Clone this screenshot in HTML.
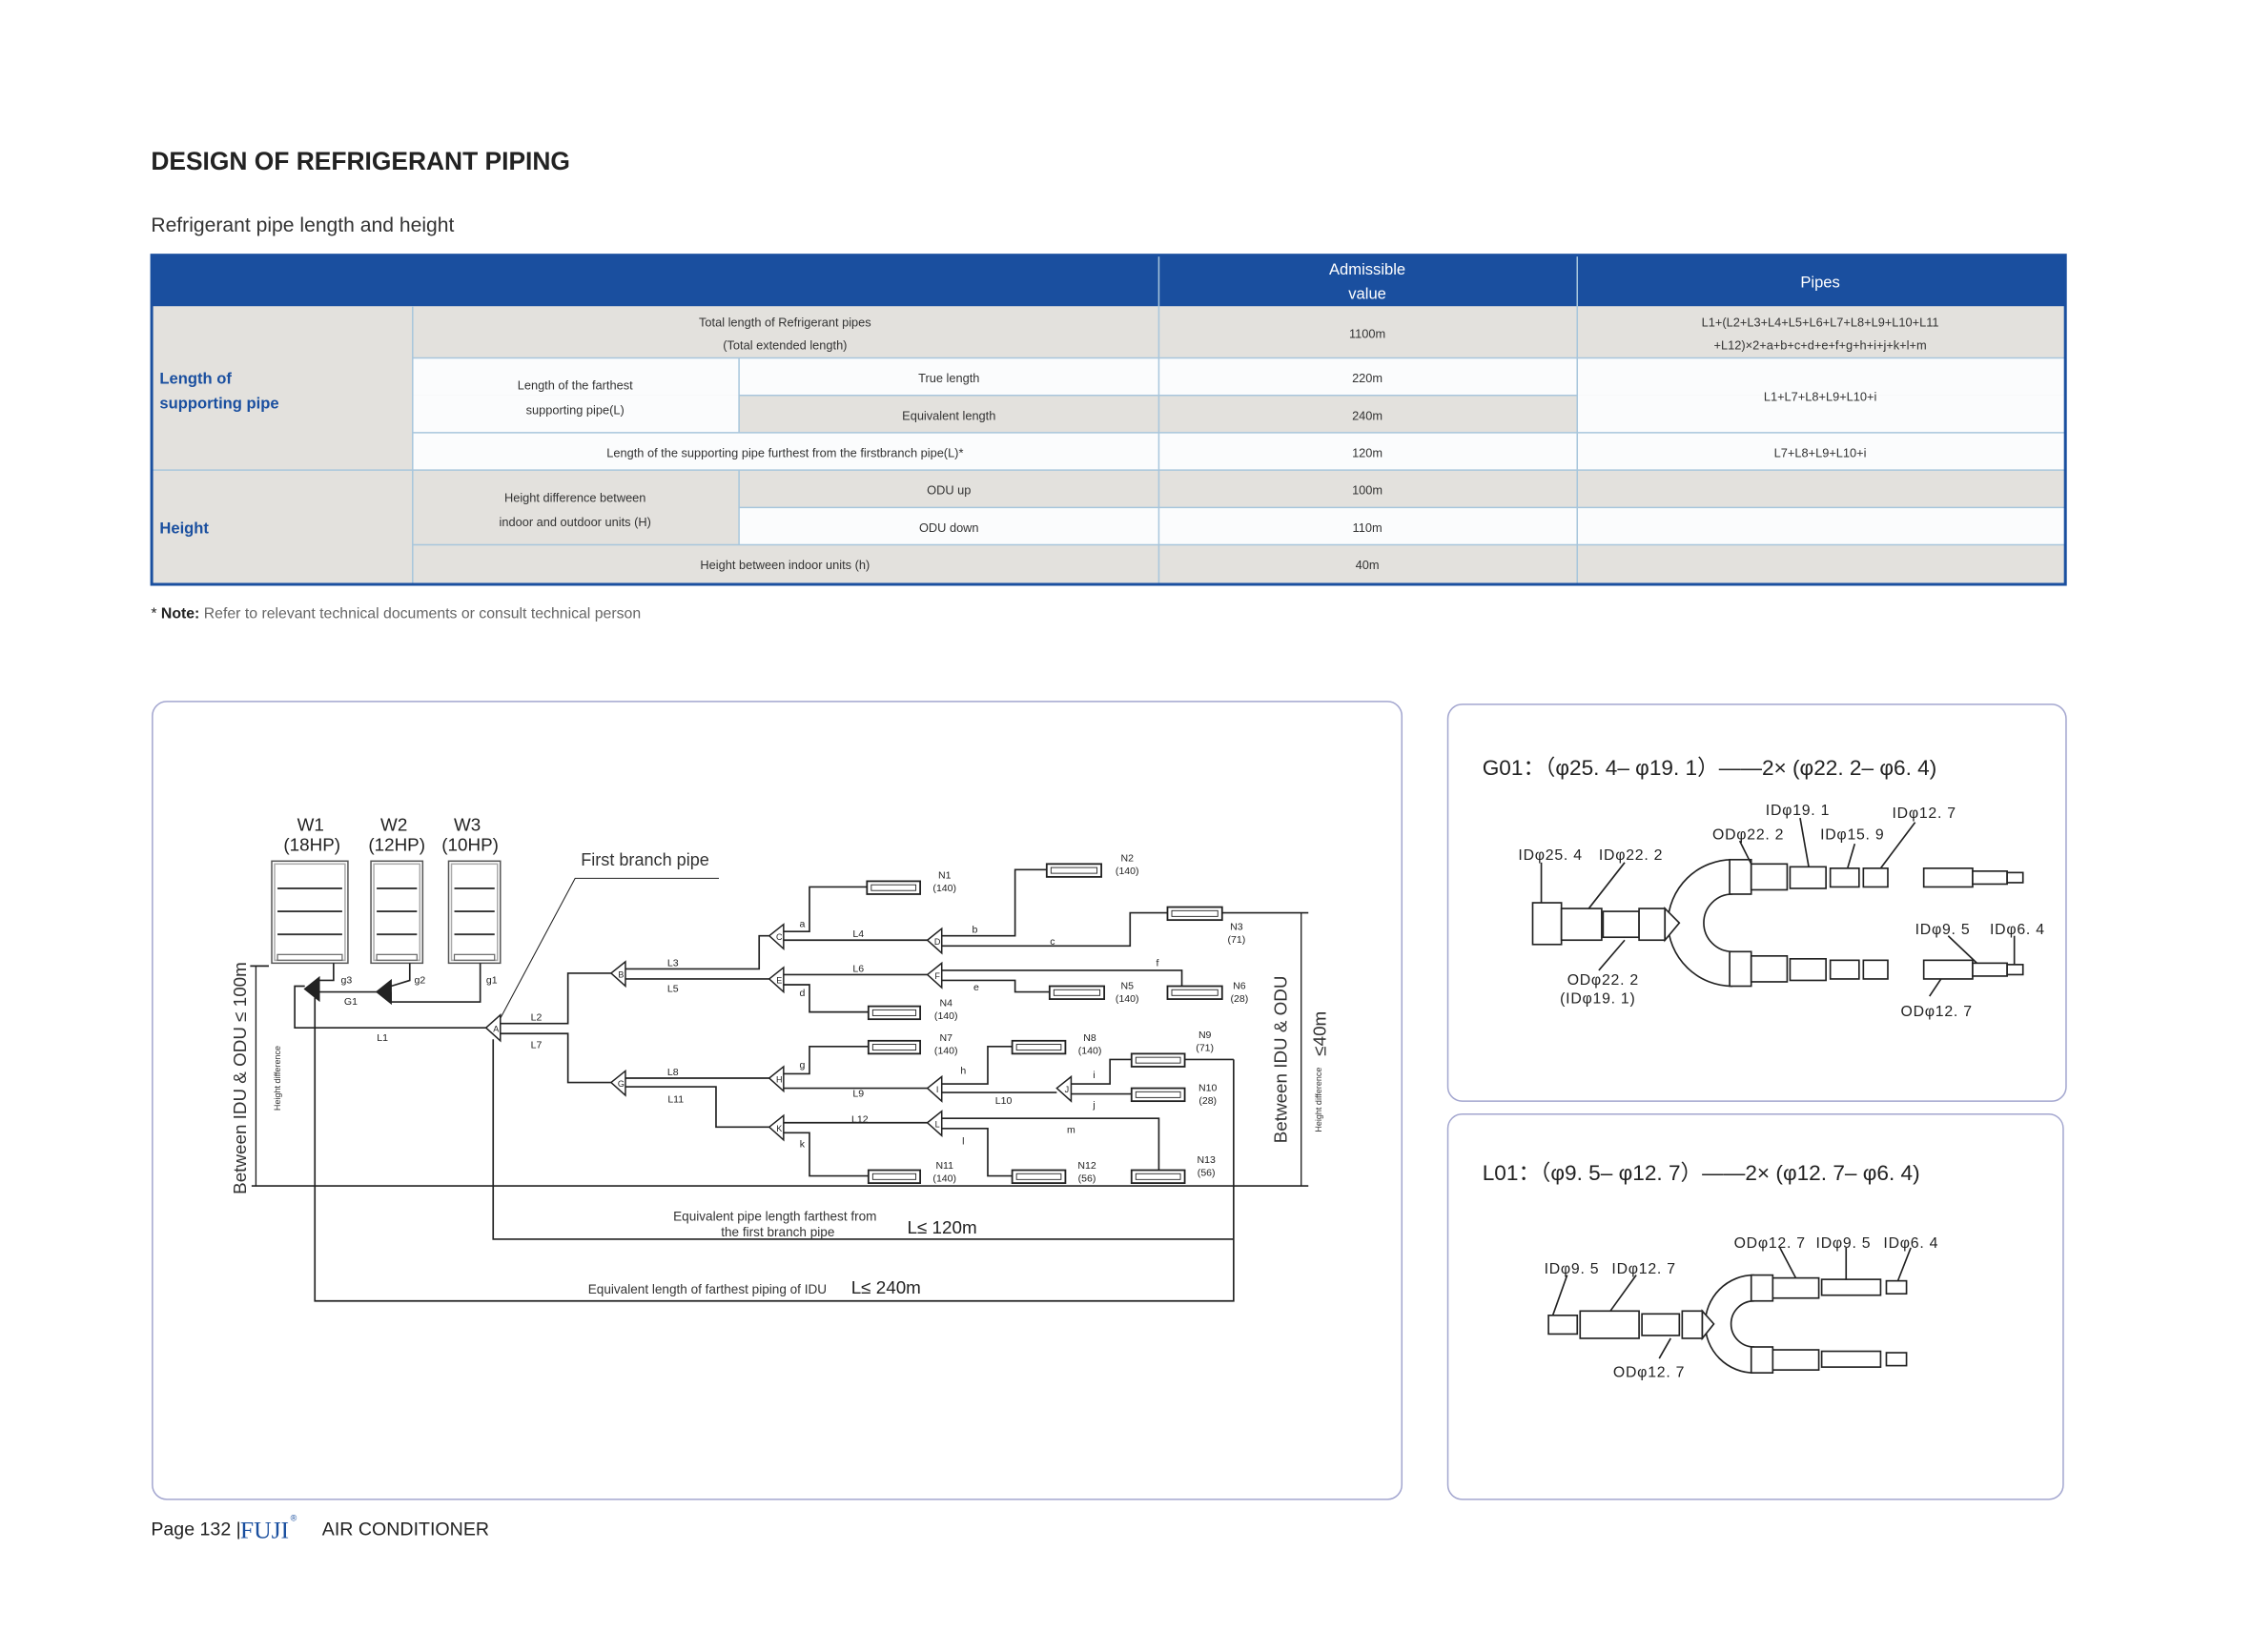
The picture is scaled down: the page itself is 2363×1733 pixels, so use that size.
<!DOCTYPE html>
<html><head><meta charset="utf-8"><style>
html,body{margin:0;padding:0;background:#fff;}
svg{display:block;}
text{font-family:"Liberation Sans",sans-serif;}
.t{font-size:8.5px;fill:#333;text-anchor:middle;}
.s{font-size:7px;fill:#222;}
.p{fill:none;stroke:#222;stroke-width:1.1;}
.f{font-size:10.5px;fill:#222;letter-spacing:0.5px;}
.fit{fill:#fff;stroke:#222;stroke-width:1.1;}
</style></head><body>
<svg width="2363" height="1733" viewBox="0 0 1567 1149.2" preserveAspectRatio="none" xmlns="http://www.w3.org/2000/svg">
<rect width="1567" height="1150" fill="#fff"/>
<text x="105" y="118" style="font-size:17.5px;font-weight:bold;fill:#222">DESIGN OF REFRIGERANT PIPING</text>
<text x="105" y="161" style="font-size:14px;fill:#333">Refrigerant pipe length and height</text>

<!-- table -->
<g>
<rect x="105" y="177" width="1332" height="230" fill="#e3e1dd"/>
<rect x="105" y="177" width="1332" height="36" fill="#1a4f9f"/>
<rect x="287" y="249" width="1150" height="26" fill="#fbfcfd"/>
<rect x="287" y="275" width="227" height="26" fill="#fbfcfd"/>
<rect x="1097" y="275" width="340" height="26" fill="#fbfcfd"/>
<rect x="287" y="301" width="1150" height="26" fill="#fbfcfd"/>
<rect x="514" y="353" width="923" height="26" fill="#fbfcfd"/>
<g stroke="#a8c6dc" stroke-width="1" fill="none">
<line x1="287" y1="249" x2="1437" y2="249"/>
<line x1="514" y1="275" x2="1097" y2="275"/>
<line x1="287" y1="301" x2="1437" y2="301"/>
<line x1="105" y1="327" x2="1437" y2="327"/>
<line x1="514" y1="353" x2="1437" y2="353"/>
<line x1="287" y1="379" x2="1437" y2="379"/>
<line x1="287" y1="213" x2="287" y2="406"/>
<line x1="514" y1="249" x2="514" y2="301"/>
<line x1="514" y1="327" x2="514" y2="379"/>
<line x1="806" y1="177" x2="806" y2="406"/>
<line x1="1097" y1="177" x2="1097" y2="406"/>
</g>
<rect x="105.5" y="177.5" width="1331" height="229" fill="none" stroke="#1a4f9f" stroke-width="2"/>
<text x="951" y="191" style="font-size:11px;fill:#fff;text-anchor:middle">Admissible</text>
<text x="951" y="208" style="font-size:11px;fill:#fff;text-anchor:middle">value</text>
<text x="1266" y="200" style="font-size:11px;fill:#fff;text-anchor:middle">Pipes</text>
<text x="111" y="267" style="font-size:11px;fill:#1a4f9f;font-weight:bold">Length of</text>
<text x="111" y="284" style="font-size:11px;fill:#1a4f9f;font-weight:bold">supporting pipe</text>
<text x="111" y="371" style="font-size:11px;fill:#1a4f9f;font-weight:bold">Height</text>
<text class="t" x="546" y="227">Total length of Refrigerant pipes</text>
<text class="t" x="546" y="243">(Total extended length)</text>
<text class="t" x="951" y="235">1100m</text>
<text class="t" x="1266" y="227">L1+(L2+L3+L4+L5+L6+L7+L8+L9+L10+L11</text>
<text class="t" x="1266" y="243">+L12)×2+a+b+c+d+e+f+g+h+i+j+k+l+m</text>
<text class="t" x="400" y="271">Length of the farthest</text>
<text class="t" x="400" y="288">supporting pipe(L)</text>
<text class="t" x="660" y="266">True length</text>
<text class="t" x="660" y="292">Equivalent length</text>
<text class="t" x="951" y="266">220m</text>
<text class="t" x="951" y="292">240m</text>
<text class="t" x="1266" y="279">L1+L7+L8+L9+L10+i</text>
<text class="t" x="546" y="318">Length of the supporting pipe furthest from the firstbranch pipe(L)*</text>
<text class="t" x="951" y="318">120m</text>
<text class="t" x="1266" y="318">L7+L8+L9+L10+i</text>
<text class="t" x="400" y="349">Height difference between</text>
<text class="t" x="400" y="366">indoor and outdoor units (H)</text>
<text class="t" x="660" y="344">ODU up</text>
<text class="t" x="660" y="370">ODU down</text>
<text class="t" x="951" y="344">100m</text>
<text class="t" x="951" y="370">110m</text>
<text class="t" x="546" y="396">Height between indoor units (h)</text>
<text class="t" x="951" y="396">40m</text>
</g>
<text x="105" y="430" style="font-size:10.5px;fill:#666"><tspan fill="#222">* </tspan><tspan fill="#222" font-weight="bold">Note:</tspan> Refer to relevant technical documents or consult technical person</text>

<!-- panels -->
<g fill="none" stroke="#a3a6cf" stroke-width="1">
<rect x="106" y="488" width="869" height="555" rx="10"/>
<rect x="1007" y="490" width="430" height="276" rx="10"/>
<rect x="1007" y="775" width="428" height="268" rx="10"/>
</g>

<!-- ODU units -->
<g font-size="12.5" fill="#222" text-anchor="middle">
<text x="216" y="578">W1</text><text x="217" y="592">(18HP)</text>
<text x="274" y="578">W2</text><text x="276" y="592">(12HP)</text>
<text x="325" y="578">W3</text><text x="327" y="592">(10HP)</text>
</g>
<g stroke="#555" fill="#fff" stroke-width="1">
<rect x="189" y="599" width="53" height="71"/><rect x="191" y="601" width="49" height="67" fill="none" stroke="#aaa"/>
<rect x="258" y="599" width="36" height="71"/><rect x="260" y="601" width="32" height="67" fill="none" stroke="#aaa"/>
<rect x="312" y="599" width="36" height="71"/><rect x="314" y="601" width="32" height="67" fill="none" stroke="#aaa"/>
</g>
<g stroke="#333" stroke-width="1.3">
<line x1="193" y1="618" x2="238" y2="618"/><line x1="193" y1="634" x2="238" y2="634"/><line x1="193" y1="650" x2="238" y2="650"/>
<line x1="262" y1="618" x2="290" y2="618"/><line x1="262" y1="634" x2="290" y2="634"/><line x1="262" y1="650" x2="290" y2="650"/>
<line x1="316" y1="618" x2="344" y2="618"/><line x1="316" y1="634" x2="344" y2="634"/><line x1="316" y1="650" x2="344" y2="650"/>
</g>
<g fill="none" stroke="#666" stroke-width="0.8">
<rect x="193" y="664" width="45" height="4"/><rect x="262" y="664" width="28" height="4"/><rect x="316" y="664" width="28" height="4"/>
</g>

<!-- pipes -->
<g class="p">
<polyline points="232,670 232,682 222,682"/>
<polyline points="285,670 285,682 272,686"/>
<polyline points="334,670 334,697 272,697 272,690"/>
<line x1="222" y1="690" x2="262" y2="690"/>
<polyline points="212,686 205,686 205,715 338,715"/>
<polyline points="219,694 219,905 858,905 858,737"/>
<polyline points="343,723 343,862 858,862"/>
<polyline points="348,712 395,712 395,677 425,677"/>
<polyline points="348,719 395,719 395,753 425,753"/>
<polyline points="435,674 528,674 528,651 535,651"/>
<line x1="435" y1="681" x2="535" y2="681"/>
<polyline points="540,648 563,648 563,617 603,617"/>
<line x1="540" y1="654" x2="645" y2="654"/>
<polyline points="655,651 706,651 706,605 728,605"/>
<polyline points="655,658 786,658 786,635 812,635"/>
<line x1="850" y1="635" x2="910" y2="635"/>
<line x1="545" y1="678" x2="645" y2="678"/>
<polyline points="545,685 563,685 563,704 604,704"/>
<polyline points="655,675 822,675 822,686"/>
<polyline points="655,682 706,682 706,690 730,690"/>
<line x1="435" y1="750" x2="535" y2="750"/>
<polyline points="435,756 498,756 498,784 535,784"/>
<polyline points="545,747 563,747 563,728 604,728"/>
<line x1="545" y1="757" x2="645" y2="757"/>
<polyline points="655,754 687,754 687,728 704,728"/>
<line x1="655" y1="760" x2="735" y2="760"/>
<polyline points="745,754 772,754 772,737 787,737"/>
<line x1="824" y1="737" x2="858" y2="737"/>
<line x1="745" y1="761" x2="787" y2="761"/>
<line x1="545" y1="781" x2="645" y2="781"/>
<polyline points="545,788 563,788 563,818 604,818"/>
<polyline points="655,778 806,778 806,814"/>
<polyline points="655,785 687,785 687,818 704,818"/>
<line x1="175" y1="825" x2="910" y2="825"/>
<line x1="178" y1="672" x2="178" y2="825" stroke-width="0.9"/>
<line x1="174" y1="672" x2="187" y2="672"/>
<line x1="905" y1="635" x2="905" y2="825" stroke-width="0.9"/>
<polyline points="345,714 400,611 500,611" stroke-width="0.7"/>
</g>

<!-- branch triangles -->
<g fill="#fff" stroke="#222" stroke-width="1">
<polygon points="338,715 348,706 348,724"/>
<polygon points="425,677 435,669 435,686"/>
<polygon points="535,651 545,643 545,660"/>
<polygon points="645,654 655,646 655,663"/>
<polygon points="535,681 545,673 545,690"/>
<polygon points="645,678 655,670 655,687"/>
<polygon points="425,753 435,745 435,762"/>
<polygon points="535,750 545,742 545,759"/>
<polygon points="645,757 655,749 655,766"/>
<polygon points="735,757 745,749 745,766"/>
<polygon points="535,784 545,776 545,793"/>
<polygon points="645,781 655,773 655,790"/>
<polygon points="212,688 222,680 222,696" fill="#222"/>
<polygon points="262,690 272,682 272,698" fill="#222"/>
</g>
<g font-size="6" fill="#222" text-anchor="middle">
<text x="345" y="718">A</text><text x="432" y="680">B</text><text x="542" y="654">C</text><text x="652" y="657">D</text>
<text x="542" y="684">E</text><text x="652" y="681">F</text><text x="432" y="756">G</text><text x="542" y="753">H</text>
<text x="652" y="760">I</text><text x="742" y="760">J</text><text x="542" y="787">K</text><text x="652" y="784">L</text>
</g>

<!-- indoor units -->
<g fill="#fff" stroke="#222" stroke-width="1.2">
<rect x="603" y="613" width="37" height="9"/><rect x="728" y="601" width="38" height="9"/><rect x="812" y="631" width="38" height="9"/>
<rect x="604" y="700" width="36" height="9"/><rect x="730" y="686" width="38" height="9"/><rect x="812" y="686" width="38" height="9"/>
<rect x="604" y="724" width="36" height="9"/><rect x="704" y="724" width="37" height="9"/><rect x="787" y="733" width="37" height="9"/>
<rect x="787" y="757" width="37" height="9"/><rect x="604" y="814" width="36" height="9"/><rect x="704" y="814" width="37" height="9"/><rect x="787" y="814" width="37" height="9"/>
</g>
<g fill="none" stroke="#222" stroke-width="0.6">
<rect x="606" y="615.5" width="31" height="4"/><rect x="731" y="603.5" width="32" height="4"/><rect x="815" y="633.5" width="32" height="4"/>
<rect x="607" y="702.5" width="30" height="4"/><rect x="733" y="688.5" width="32" height="4"/><rect x="815" y="688.5" width="32" height="4"/>
<rect x="607" y="726.5" width="30" height="4"/><rect x="707" y="726.5" width="31" height="4"/><rect x="790" y="735.5" width="31" height="4"/>
<rect x="790" y="759.5" width="31" height="4"/><rect x="607" y="816.5" width="30" height="4"/><rect x="707" y="816.5" width="31" height="4"/><rect x="790" y="816.5" width="31" height="4"/>
</g>
<g class="s" text-anchor="middle">
<text x="657" y="611">N1</text><text x="657" y="620">(140)</text>
<text x="784" y="599">N2</text><text x="784" y="608">(140)</text>
<text x="860" y="647">N3</text><text x="860" y="656">(71)</text>
<text x="658" y="700">N4</text><text x="658" y="709">(140)</text>
<text x="784" y="688">N5</text><text x="784" y="697">(140)</text>
<text x="862" y="688">N6</text><text x="862" y="697">(28)</text>
<text x="658" y="724">N7</text><text x="658" y="733">(140)</text>
<text x="758" y="724">N8</text><text x="758" y="733">(140)</text>
<text x="838" y="722">N9</text><text x="838" y="731">(71)</text>
<text x="840" y="759">N10</text><text x="840" y="768">(28)</text>
<text x="657" y="813">N11</text><text x="657" y="822">(140)</text>
<text x="756" y="813">N12</text><text x="756" y="822">(56)</text>
<text x="839" y="809">N13</text><text x="839" y="818">(56)</text>
<text x="373" y="710">L2</text><text x="373" y="729">L7</text><text x="266" y="724">L1</text>
<text x="468" y="672">L3</text><text x="468" y="690">L5</text><text x="597" y="652">L4</text><text x="597" y="676">L6</text>
<text x="468" y="748">L8</text><text x="470" y="767">L11</text><text x="597" y="763">L9</text><text x="698" y="768">L10</text><text x="598" y="781">L12</text>
<text x="558" y="645">a</text><text x="678" y="649">b</text><text x="732" y="657">c</text><text x="558" y="693">d</text>
<text x="679" y="689">e</text><text x="805" y="672">f</text><text x="558" y="743">g</text><text x="670" y="747">h</text>
<text x="761" y="750">i</text><text x="761" y="771">j</text><text x="558" y="798">k</text><text x="670" y="796">l</text><text x="745" y="788">m</text>
<text x="241" y="684">g3</text><text x="292" y="684">g2</text><text x="342" y="684">g1</text><text x="244" y="699">G1</text>
</g>
<text x="404" y="602" style="font-size:12px;fill:#333">First branch pipe</text>
<g font-size="9" fill="#333" text-anchor="middle">
<text x="539" y="849">Equivalent pipe length farthest from</text>
<text x="541" y="860">the first branch pipe</text>
<text x="492" y="900">Equivalent length of farthest piping of IDU</text>
</g>
<text x="631" y="858" style="font-size:12.5px;fill:#222">L≤ 120m</text>
<text x="592" y="900" style="font-size:12.5px;fill:#222">L≤ 240m</text>
<text transform="translate(171,750) rotate(-90)" text-anchor="middle" style="font-size:12.5px;fill:#333">Between IDU &amp; ODU  ≤ 100m</text>
<text transform="translate(195,750) rotate(-90)" text-anchor="middle" style="font-size:6px;fill:#333">Height difference</text>
<text transform="translate(895,737) rotate(-90)" text-anchor="middle" style="font-size:12.5px;fill:#333">Between IDU &amp; ODU</text>
<text transform="translate(922,719) rotate(-90)" text-anchor="middle" style="font-size:12.5px;fill:#333">≤40m</text>
<text transform="translate(919,765) rotate(-90)" text-anchor="middle" style="font-size:6px;fill:#333">Height difference</text>

<!-- G01 fitting -->
<text x="1031" y="539" style="font-size:15px;fill:#222">G01：（φ25. 4– φ19. 1）——2× (φ22. 2– φ6. 4)</text>
<g>
<path d="M1160,642 A45,45 0 0 1 1205,598 M1160,642 A45,45 0 0 0 1205,686 M1205,622 A20,20 0 0 0 1205,662" class="p"/>
<rect class="fit" x="1066" y="628" width="20" height="29"/>
<rect class="fit" x="1086" y="632" width="28" height="22"/>
<rect class="fit" x="1115" y="634" width="25" height="18"/>
<rect class="fit" x="1140" y="632" width="18" height="22"/>
<polygon class="fit" points="1158,632 1168,642 1158,654"/>
<rect class="fit" x="1203" y="598" width="15" height="24"/><rect class="fit" x="1218" y="601" width="25" height="18"/><rect class="fit" x="1245" y="603" width="25" height="15"/><rect class="fit" x="1273" y="604" width="20" height="13"/><rect class="fit" x="1296" y="604" width="17" height="13"/>
<rect class="fit" x="1203" y="662" width="15" height="24"/><rect class="fit" x="1218" y="665" width="25" height="18"/><rect class="fit" x="1245" y="667" width="25" height="15"/><rect class="fit" x="1273" y="668" width="20" height="13"/><rect class="fit" x="1296" y="668" width="17" height="13"/>
<rect class="fit" x="1338" y="604" width="34" height="13"/><rect class="fit" x="1372" y="606" width="24" height="9"/><rect class="fit" x="1396" y="607" width="11" height="7"/>
<rect class="fit" x="1338" y="668" width="34" height="13"/><rect class="fit" x="1372" y="670" width="24" height="9"/><rect class="fit" x="1396" y="671" width="11" height="7"/>
<g class="p" stroke-width="0.8">
<line x1="1072" y1="600" x2="1072" y2="628"/><line x1="1130" y1="600" x2="1105" y2="632"/><line x1="1130" y1="654" x2="1112" y2="675"/>
<line x1="1210" y1="585" x2="1218" y2="601"/><line x1="1252" y1="569" x2="1258" y2="603"/><line x1="1290" y1="587" x2="1285" y2="604"/><line x1="1332" y1="572" x2="1308" y2="604"/>
<line x1="1355" y1="651" x2="1375" y2="670"/><line x1="1401" y1="651" x2="1401" y2="671"/><line x1="1350" y1="681" x2="1342" y2="693"/>
</g>
<g class="f">
<text x="1228" y="567">IDφ19. 1</text><text x="1316" y="569">IDφ12. 7</text><text x="1191" y="584">ODφ22. 2</text><text x="1266" y="584">IDφ15. 9</text>
<text x="1056" y="598">IDφ25. 4</text><text x="1112" y="598">IDφ22. 2</text><text x="1090" y="685">ODφ22. 2</text><text x="1085" y="698">(IDφ19. 1)</text>
<text x="1332" y="650">IDφ9. 5</text><text x="1384" y="650">IDφ6. 4</text><text x="1322" y="707">ODφ12. 7</text>
</g>
</g>

<!-- L01 fitting -->
<text x="1031" y="821" style="font-size:15px;fill:#222">L01：（φ9. 5– φ12. 7）——2× (φ12. 7– φ6. 4)</text>
<g>
<path d="M1186,921 A34,34 0 0 1 1220,887 M1186,921 A34,34 0 0 0 1220,955 M1220,905 A16,16 0 0 0 1220,937" class="p"/>
<rect class="fit" x="1077" y="915" width="20" height="13"/>
<rect class="fit" x="1099" y="912" width="41" height="19"/>
<rect class="fit" x="1142" y="914" width="26" height="15"/>
<rect class="fit" x="1170" y="912" width="14" height="19"/>
<polygon class="fit" points="1184,912 1192,921 1184,931"/>
<rect class="fit" x="1218" y="887" width="15" height="18"/><rect class="fit" x="1233" y="889" width="32" height="14"/><rect class="fit" x="1267" y="890" width="41" height="11"/><rect class="fit" x="1312" y="891" width="14" height="9"/>
<rect class="fit" x="1218" y="937" width="15" height="18"/><rect class="fit" x="1233" y="939" width="32" height="14"/><rect class="fit" x="1267" y="940" width="41" height="11"/><rect class="fit" x="1312" y="941" width="14" height="9"/>
<g class="p" stroke-width="0.8">
<line x1="1090" y1="887" x2="1080" y2="915"/><line x1="1138" y1="887" x2="1120" y2="912"/><line x1="1162" y1="931" x2="1154" y2="945"/>
<line x1="1238" y1="868" x2="1249" y2="889"/><line x1="1284" y1="868" x2="1284" y2="890"/><line x1="1329" y1="868" x2="1320" y2="891"/>
</g>
<g class="f">
<text x="1206" y="868">ODφ12. 7</text><text x="1263" y="868">IDφ9. 5</text><text x="1310" y="868">IDφ6. 4</text>
<text x="1074" y="886">IDφ9. 5</text><text x="1121" y="886">IDφ12. 7</text><text x="1122" y="958">ODφ12. 7</text>
</g>
</g>

<!-- footer -->
<text x="105" y="1068" style="font-size:13px;fill:#222">Page  132  |</text>
<text x="167" y="1070" style="font-size:17px;fill:#1a4f9f;font-family:'Liberation Serif',serif">FUJI</text>
<text x="202" y="1058" style="font-size:6px;fill:#1a4f9f">®</text>
<text x="224" y="1068" style="font-size:13px;fill:#222">AIR CONDITIONER</text>
</svg>
</body></html>
